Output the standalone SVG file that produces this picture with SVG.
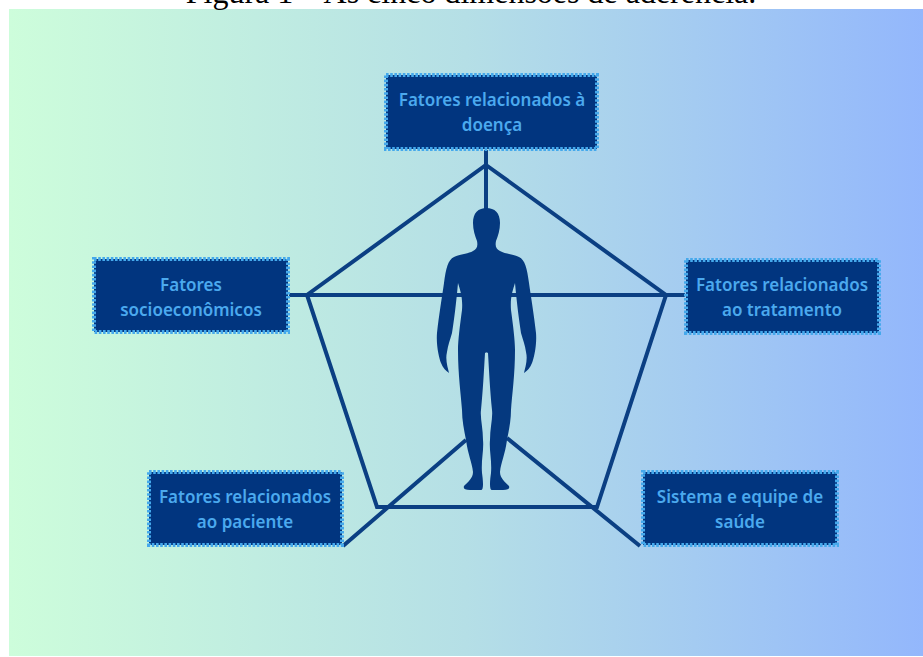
<svg xmlns="http://www.w3.org/2000/svg" width="923" height="657" viewBox="0 0 923 657">
<style>
.box{fill:#01357f;stroke:#45a9ec;stroke-width:4;stroke-dasharray:2.6 1.6}
.lbl{font-family:"Noto Sans","Open Sans",sans-serif;font-weight:600;font-size:17px;fill:#4ba9ee;text-anchor:middle}
.ln{fill:none;stroke:#0b3f83;stroke-width:4;stroke-linejoin:miter}
.body{fill:#05397f}
</style>
<defs><linearGradient id="bg" x1="0" y1="0" x2="1" y2="0"><stop offset="0" stop-color="#cdfddb"/><stop offset="0.5" stop-color="#b5dfe6"/><stop offset="1" stop-color="#93b7fc"/></linearGradient></defs>
<rect width="923" height="657" fill="#fff"/>
<rect x="9" y="9" width="914" height="647" fill="url(#bg)"/>
<text x="471" y="3" font-family="'Liberation Serif',serif" font-size="32" text-anchor="middle" fill="#000">Figura 1 – As cinco dimensões de aderência.</text>
<g id="connectors">
<path class="ln" d="M486,165 L666,295 L597,507 L377,507 L307,295 Z"/>
<path class="ln" d="M289,295 H685 M486,150 V215 M343,546 L466,440 M507,438 L640,546"/>
</g>
<g id="figure">
<path class="body" d="M487,208 C478,208 473,213 473,223 C473,230 475,236 477,241 C478,246 477,249 473,251 C468,254 460,254 454,257 C448,260 446,268 444,283 C442,297 439,315 437,333 C436,345 439,358 441,363 C443,368 446,371 449,373 C448,368 445,360 447,352 C448,345 450,340 452,333 C454,320 456,305 458,283 C460,290 463,297 462,310 C460,325 458,340 458,350 C458,375 461,395 462,410 C462,420 464,430 466,440 C468,455 472,462 473,472 C473,478 468,482 464,486 C463,489 465,490 470,490 L481,490 C484,490 483,480 482,473 C481,460 484,450 483,440 C483,428 480,418 481,410 C483,390 484,370 485,353 L487,352 Z"/>
<path class="body" transform="translate(973,0) scale(-1,1)" d="M487,208 C478,208 473,213 473,223 C473,230 475,236 477,241 C478,246 477,249 473,251 C468,254 460,254 454,257 C448,260 446,268 444,283 C442,297 439,315 437,333 C436,345 439,358 441,363 C443,368 446,371 449,373 C448,368 445,360 447,352 C448,345 450,340 452,333 C454,320 456,305 458,283 C460,290 463,297 462,310 C460,325 458,340 458,350 C458,375 461,395 462,410 C462,420 464,430 466,440 C468,455 472,462 473,472 C473,478 468,482 464,486 C463,489 465,490 470,490 L481,490 C484,490 483,480 482,473 C481,460 484,450 483,440 C483,428 480,418 481,410 C483,390 484,370 485,353 L487,352 Z"/>
</g>
<g id="n-doenca"><rect class="box" x="386" y="75" width="211" height="74"/><text class="lbl" x="492" y="106">Fatores relacionados à</text><text class="lbl" x="492" y="131">doença</text></g>
<g id="n-socio"><rect class="box" x="94" y="259" width="194" height="73"/><text class="lbl" x="191" y="291">Fatores</text><text class="lbl" x="191" y="316">socioeconômicos</text></g>
<g id="n-tratamento"><rect class="box" x="686" y="260" width="193" height="73"/><text class="lbl" x="782" y="291">Fatores relacionados</text><text class="lbl" x="782" y="316">ao tratamento</text></g>
<g id="n-paciente"><rect class="box" x="149" y="472" width="193" height="73"/><text class="lbl" x="245" y="503">Fatores relacionados</text><text class="lbl" x="245" y="528">ao paciente</text></g>
<g id="n-sistema"><rect class="box" x="643" y="472" width="194" height="73"/><text class="lbl" x="740" y="503">Sistema e equipe de</text><text class="lbl" x="740" y="528">saúde</text></g>
</svg>
